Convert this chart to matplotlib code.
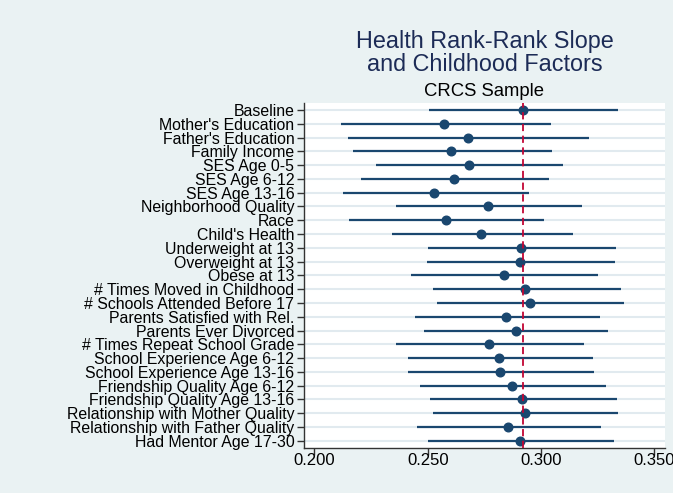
import numpy as np
import matplotlib.pyplot as plt

plt.rcParams['font.family'] = ['Liberation Sans', 'DejaVu Sans']

# factores y estimaciones (punto, limite inferior, limite superior)
factores = ["Baseline", "Mother's Education", "Father's Education", "Family Income",
            "SES Age 0-5", "SES Age 6-12", "SES Age 13-16", "Neighborhood Quality",
            "Race", "Child's Health", "Underweight at 13", "Overweight at 13",
            "Obese at 13", "# Times Moved in Childhood", "# Schools Attended Before 17",
            "Parents Satisfied with Rel.", "Parents Ever Divorced",
            "# Times Repeat School Grade", "School Experience Age 6-12",
            "School Experience Age 13-16", "Friendship Quality Age 6-12",
            "Friendship Quality Age 13-16", "Relationship with Mother Quality",
            "Relationship with Father Quality", "Had Mentor Age 17-30"]
pendiente = [0.2920, 0.2573, 0.2676, 0.2605, 0.2682, 0.2614, 0.2529, 0.2766,
             0.2580, 0.2736, 0.2910, 0.2906, 0.2836, 0.2930, 0.2950, 0.2845,
             0.2888, 0.2769, 0.2816, 0.2820, 0.2872, 0.2916, 0.2930, 0.2853, 0.2906]
ic_inf = [0.2507, 0.2116, 0.2147, 0.2171, 0.2273, 0.2207, 0.2126, 0.2361,
          0.2154, 0.2343, 0.2501, 0.2498, 0.2426, 0.2523, 0.2539, 0.2442,
          0.2485, 0.2358, 0.2411, 0.2414, 0.2467, 0.2510, 0.2524, 0.2452, 0.2501]
ic_sup = [0.3341, 0.3042, 0.3213, 0.3049, 0.3095, 0.3035, 0.2948, 0.3179,
          0.3015, 0.3141, 0.3332, 0.3327, 0.3251, 0.3351, 0.3367, 0.3259,
          0.3297, 0.3191, 0.3229, 0.3232, 0.3285, 0.3336, 0.3342, 0.3266, 0.3322]
base = 0.2922
xticks = [0.200, 0.250, 0.300, 0.350]

fondo = '#eaf2f3'
azul = '#1a476f'

fig = plt.figure(figsize=(6.73, 4.93), dpi=100, facecolor=fondo)
ax = fig.add_axes([0.4517, 0.0919, 0.5363, 0.6991])
ax.set_facecolor('white')

y = np.arange(len(factores))
for yi in y:
    ax.axhline(yi, color='#e1eaef', lw=1.5, zorder=0)
ax.hlines(y, ic_inf, ic_sup, color=azul, lw=1.6, zorder=2)
ax.plot(pendiente, y, 'o', color=azul, ms=6.2, zorder=3)
ax.axvline(base, color='#c10534', lw=1.3, ls=(0, (4, 2.5)), zorder=4)

ax.set_ylim(len(factores) - 0.5, -0.5)
ax.set_xlim(0.1954, 0.3547)
ax.set_yticks(y)
ax.set_yticklabels(factores, fontsize=11.4)
ax.set_xticks(xticks)
ax.set_xticklabels(['%.3f' % v for v in xticks], fontsize=12)
ax.tick_params(axis='y', length=5, width=1, color='#333333', pad=2)
ax.tick_params(axis='x', length=5, width=1, color='#333333', pad=-1)
for s in ['top', 'right']:
    ax.spines[s].set_visible(False)
for s in ['left', 'bottom']:
    ax.spines[s].set_color('#333333')
    ax.spines[s].set_linewidth(1)

fig.text(0.7199, 0.8935, 'Health Rank-Rank Slope\nand Childhood Factors', ha='center',
         va='center', fontsize=16.8, color='#1c2b56', linespacing=1.0)
fig.text(0.7199, 0.814, 'CRCS Sample', ha='center', va='center', fontsize=13.3, color='black')

fig.savefig('out.png', dpi=100, facecolor=fondo)
